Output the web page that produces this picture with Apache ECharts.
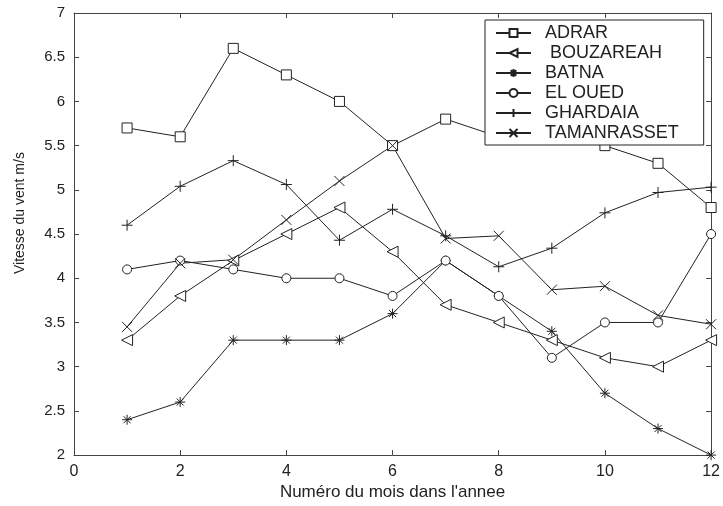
<!DOCTYPE html>
<html>
<head>
<meta charset="utf-8">
<script src="https://cdn.jsdelivr.net/npm/echarts@6/dist/echarts.min.js"></script>
<style>html,body{margin:0;padding:0;background:#fff}#c{width:723px;height:506px}</style>
</head>
<body>
<div id="c"></div>
<script>
const months = [1, 2, 3, 4, 5, 6, 7, 8, 9, 10, 11, 12];
const seriesNames = ['ADRAR', ' BOUZAREAH', 'BATNA', 'EL OUED', 'GHARDAIA', 'TAMANRASSET'];
const adrar = [5.7, 5.6, 6.6, 6.3, 6.0, 5.5, 5.8, 5.6, 5.6, 5.5, 5.3, 4.8];
const bouzareah = [3.3, 3.8, 4.2, 4.5, 4.8, 4.3, 3.7, 3.5, 3.3, 3.1, 3.0, 3.3];
const batna = [2.4, 2.6, 3.3, 3.3, 3.3, 3.6, 4.2, 3.8, 3.4, 2.7, 2.3, 2.0];
const elOued = [4.1, 4.2, 4.1, 4.0, 4.0, 3.8, 4.2, 3.8, 3.1, 3.5, 3.5, 4.5];
const ghardaia = [4.6, 5.04, 5.33, 5.06, 4.43, 4.78, 4.48, 4.13, 4.34, 4.74, 4.97, 5.03];
const tamanrasset = [3.45, 4.17, 4.21, 4.66, 5.1, 5.5, 4.45, 4.48, 3.87, 3.91, 3.58, 3.48];
const xTicks = { min: 0, max: 12, interval: 2 };
const yTicks = { min: 2, max: 7, interval: 0.5 };

const allValues = [adrar, bouzareah, batna, elOued, ghardaia, tamanrasset];
const symbols = [
  'rect',
  'triangle',
  'path://M5,0L5,10M0,5L10,5M1.5,1.5L8.5,8.5M8.5,1.5L1.5,8.5',
  'circle',
  'path://M5,0L5,10M0,5L10,5',
  'path://M0,0L10,10M10,0L0,10'
];
const rotates = [0, 90, 0, 0, 0, 0];
const sizes = [10, 11, 10, 9, 11, 10];

const FONT = "'Liberation Sans', Arial, sans-serif";
const TXT = '#222';
const AX = '#444';

const chart = echarts.init(document.getElementById('c'), null, { renderer: 'canvas' });

const series = allValues.map((vals, i) => ({
  name: seriesNames[i],
  type: 'line',
  data: months.map((m, j) => [m, vals[j]]),
  symbol: symbols[i],
  symbolRotate: rotates[i],
  symbolSize: sizes[i],
  showAllSymbol: true,
  lineStyle: { color: '#222', width: 1 },
  itemStyle: { color: '#fff', borderColor: '#222', borderWidth: 1 },
  emphasis: { disabled: true },
  animation: false,
  z: 2
}));

const axisLineStyle = { color: AX, width: 1 };

chart.setOption({
  animation: false,
  backgroundColor: '#fff',
  grid: { left: 74, right: 9, top: 13, bottom: 48, containLabel: false },
  legend: {
    data: seriesNames,
    orient: 'vertical',
    left: 485,
    top: 20,
    padding: [4, 10, 3, 10],
    itemWidth: 35,
    itemHeight: 10,
    itemGap: 2,
    backgroundColor: '#fff',
    borderColor: '#222',
    borderWidth: 1,
    borderRadius: 0,
    formatter: function (name) { return name + '   '; },
    textStyle: { fontFamily: FONT, fontSize: 18, color: TXT, padding: [0, 0, 0, 9] },
    z: 10
  },
  xAxis: [
    {
      type: 'value', position: 'bottom',
      min: xTicks.min, max: xTicks.max, interval: xTicks.interval,
      axisLine: { show: true, onZero: false, lineStyle: axisLineStyle },
      axisTick: { show: true, inside: true, length: 5, lineStyle: axisLineStyle },
      splitLine: { show: false },
      axisLabel: { fontFamily: FONT, fontSize: 16, color: TXT, margin: 8 },
      name: "Numéro du mois dans l'annee",
      nameLocation: 'middle', nameGap: 26,
      nameTextStyle: { fontFamily: FONT, fontSize: 17, color: TXT }
    },
    {
      type: 'value', position: 'top',
      min: xTicks.min, max: xTicks.max, interval: xTicks.interval,
      axisLine: { show: true, onZero: false, lineStyle: axisLineStyle },
      axisTick: { show: true, inside: true, length: 5, lineStyle: axisLineStyle },
      splitLine: { show: false },
      axisLabel: { show: false }
    }
  ],
  yAxis: [
    {
      type: 'value', position: 'left',
      min: yTicks.min, max: yTicks.max, interval: yTicks.interval,
      axisLine: { show: true, onZero: false, lineStyle: axisLineStyle },
      axisTick: { show: true, inside: true, length: 5, lineStyle: axisLineStyle },
      splitLine: { show: false },
      axisLabel: { fontFamily: FONT, fontSize: 15, color: TXT, margin: 9 },
      name: 'Vitesse du vent m/s',
      nameLocation: 'middle', nameGap: 47,
      nameTextStyle: { fontFamily: FONT, fontSize: 14, color: TXT, padding: [0, 0, 0, 42] }
    },
    {
      type: 'value', position: 'right',
      min: yTicks.min, max: yTicks.max, interval: yTicks.interval,
      axisLine: { show: true, onZero: false, lineStyle: axisLineStyle },
      axisTick: { show: true, inside: true, length: 5, lineStyle: axisLineStyle },
      splitLine: { show: false },
      axisLabel: { show: false }
    }
  ],
  series: series
});
</script>
</body>
</html>
